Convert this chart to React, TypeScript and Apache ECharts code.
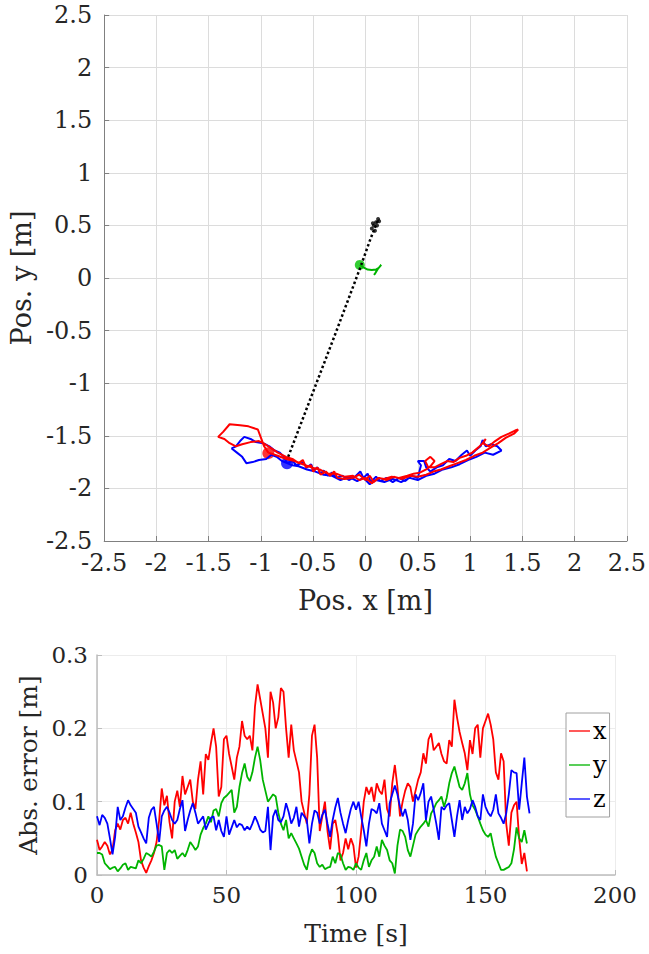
import React, { useEffect, useRef } from "react";
import * as echarts from "echarts";

// ---- Top chart: trajectories (x [m], y [m]) ----
const refPath: number[][] = [
  [-0.74, -1.7], [-0.52, -1.13], [-0.3, -0.56], [-0.05, 0.1], [0.05, 0.38], [0.09, 0.48], [0.12, 0.55],
];
const refCluster: number[][] = [
  [0.08, 0.5], [0.1, 0.53], [0.12, 0.56], [0.06, 0.47], [0.09, 0.45], [0.11, 0.5], [0.07, 0.52], [0.13, 0.54],
];
const greenPath: number[][] = [
  [-0.055, 0.124], [-0.02, 0.1], [0.02, 0.08], [0.06, 0.075], [0.1, 0.08], [0.13, 0.1], [0.15, 0.125],
  [0.12, 0.09], [0.09, 0.04], [0.08, 0.03],
];
const greenDot: number[][] = [[-0.055, 0.124]];
const redPath: number[][] = [
  [-0.93, -1.66], [-0.97, -1.6], [-1.0, -1.52], [-1.03, -1.44], [-1.12, -1.41], [-1.2, -1.4], [-1.3, -1.39],
  [-1.36, -1.46], [-1.41, -1.51], [-1.35, -1.53], [-1.3, -1.57], [-1.24, -1.6], [-1.18, -1.58], [-1.1, -1.56],
  [-1.02, -1.55], [-0.96, -1.58], [-0.9, -1.62], [-0.84, -1.66], [-0.76, -1.7], [-0.7, -1.72], [-0.64, -1.76],
  [-0.6, -1.73], [-0.57, -1.8], [-0.52, -1.78], [-0.5, -1.84], [-0.46, -1.8], [-0.43, -1.87], [-0.38, -1.84],
  [-0.34, -1.88], [-0.3, -1.84], [-0.27, -1.9], [-0.2, -1.91], [-0.12, -1.9], [-0.06, -1.87], [0.0, -1.92],
  [0.04, -1.88], [0.08, -1.94], [0.12, -1.9], [0.18, -1.91], [0.25, -1.89], [0.32, -1.9], [0.4, -1.88],
  [0.46, -1.86], [0.52, -1.85], [0.58, -1.82], [0.62, -1.79], [0.66, -1.74], [0.62, -1.7], [0.57, -1.74],
  [0.6, -1.8], [0.66, -1.8], [0.72, -1.77], [0.78, -1.74], [0.84, -1.75], [0.9, -1.71], [0.96, -1.69],
  [1.02, -1.66], [1.08, -1.61], [1.13, -1.56], [1.15, -1.53], [1.12, -1.57], [1.18, -1.6], [1.24, -1.55],
  [1.3, -1.51], [1.37, -1.48], [1.43, -1.45], [1.46, -1.44], [1.42, -1.48], [1.34, -1.52], [1.27, -1.57],
  [1.2, -1.61], [1.12, -1.66], [1.04, -1.69], [0.96, -1.73], [0.88, -1.76], [0.8, -1.79], [0.72, -1.82],
  [0.65, -1.84], [0.58, -1.87], [0.5, -1.89], [0.43, -1.88], [0.35, -1.91], [0.27, -1.89], [0.2, -1.92],
  [0.13, -1.9], [0.06, -1.95], [0.0, -1.9], [-0.06, -1.92], [-0.12, -1.88], [-0.2, -1.89], [-0.28, -1.86],
  [-0.36, -1.86], [-0.44, -1.82], [-0.52, -1.8], [-0.6, -1.77], [-0.68, -1.74], [-0.76, -1.72], [-0.84, -1.69],
  [-0.93, -1.66],
];
const redDot: number[][] = [[-0.93, -1.665]];
const bluePath: number[][] = [
  [-0.75, -1.76], [-0.78, -1.7], [-0.82, -1.66], [-0.87, -1.64], [-0.92, -1.6], [-0.98, -1.57], [-1.05, -1.56],
  [-1.1, -1.53], [-1.16, -1.51], [-1.2, -1.55], [-1.24, -1.6], [-1.28, -1.62], [-1.23, -1.66], [-1.18, -1.7],
  [-1.14, -1.76], [-1.08, -1.75], [-1.02, -1.73], [-0.95, -1.72], [-0.9, -1.68], [-0.85, -1.7], [-0.8, -1.74],
  [-0.75, -1.76], [-0.7, -1.74], [-0.66, -1.78], [-0.6, -1.75], [-0.56, -1.8], [-0.52, -1.77], [-0.5, -1.83],
  [-0.46, -1.8], [-0.43, -1.86], [-0.4, -1.83], [-0.36, -1.88], [-0.32, -1.85], [-0.28, -1.9], [-0.22, -1.88],
  [-0.16, -1.92], [-0.1, -1.89], [-0.05, -1.84], [-0.02, -1.9], [0.02, -1.86], [0.05, -1.94], [0.1, -1.89],
  [0.14, -1.93], [0.2, -1.9], [0.26, -1.94], [0.32, -1.9], [0.38, -1.93], [0.44, -1.88], [0.5, -1.9],
  [0.53, -1.78], [0.5, -1.74], [0.56, -1.74], [0.58, -1.8], [0.62, -1.84], [0.68, -1.8], [0.74, -1.78],
  [0.8, -1.72], [0.86, -1.74], [0.92, -1.68], [0.97, -1.64], [1.0, -1.69], [1.05, -1.64], [1.1, -1.6],
  [1.12, -1.54], [1.15, -1.6], [1.2, -1.58], [1.26, -1.6], [1.3, -1.64], [1.22, -1.68], [1.14, -1.66],
  [1.06, -1.7], [0.98, -1.73], [0.9, -1.77], [0.82, -1.8], [0.74, -1.82], [0.66, -1.86], [0.58, -1.88],
  [0.5, -1.92], [0.42, -1.9], [0.34, -1.94], [0.26, -1.91], [0.18, -1.94], [0.1, -1.92], [0.04, -1.96],
  [-0.02, -1.9], [-0.08, -1.93], [-0.16, -1.89], [-0.24, -1.92], [-0.32, -1.88], [-0.4, -1.87], [-0.48, -1.84],
  [-0.56, -1.82], [-0.64, -1.79], [-0.7, -1.78], [-0.75, -1.76],
];
const blueDot: number[][] = [[-0.751, -1.761]];

// ---- Bottom chart: absolute error per second ----
const errX: number[] = [
  0.048, 0.034, 0.039, 0.045, 0.04, 0.028, 0.035, 0.061, 0.07, 0.062,
  0.075, 0.078, 0.07, 0.085, 0.07, 0.058, 0.045, 0.02, 0.01, 0.003,
  0.012, 0.02, 0.03, 0.045, 0.075, 0.118, 0.095, 0.108, 0.072, 0.05,
  0.1, 0.115, 0.093, 0.135, 0.11, 0.12, 0.13, 0.1, 0.09, 0.13,
  0.155, 0.11, 0.165, 0.157, 0.18, 0.2, 0.175, 0.107, 0.12, 0.185,
  0.19, 0.165, 0.148, 0.13, 0.16, 0.175, 0.21, 0.19, 0.185, 0.19,
  0.17, 0.23, 0.26, 0.24, 0.22, 0.2, 0.16, 0.25, 0.235, 0.2,
  0.215, 0.255, 0.25, 0.2, 0.16, 0.205, 0.17, 0.155, 0.14, 0.1,
  0.085, 0.07, 0.11, 0.19, 0.205, 0.16, 0.06, 0.08, 0.1, 0.06,
  0.035, 0.07, 0.075, 0.055, 0.02, 0.03, 0.05, 0.035, 0.05, 0.04,
  0.01, 0.025, 0.06, 0.1, 0.12, 0.11, 0.12, 0.1, 0.125, 0.115,
  0.11, 0.13, 0.09, 0.08, 0.125, 0.15, 0.12, 0.08, 0.1, 0.115,
  0.125, 0.12, 0.1, 0.115, 0.13, 0.14, 0.166, 0.152, 0.185, 0.193,
  0.17, 0.175, 0.18, 0.165, 0.155, 0.152, 0.184, 0.175, 0.239, 0.215,
  0.195, 0.18, 0.166, 0.143, 0.184, 0.165, 0.2, 0.205, 0.16, 0.2,
  0.21, 0.22, 0.205, 0.185, 0.14, 0.13, 0.166, 0.155, 0.07, 0.04,
  0.085, 0.095, 0.1, 0.05, 0.015, 0.03, 0.005,
];
const errY: number[] = [
  0.03, 0.03, 0.028, 0.016, 0.012, 0.008, 0.01, 0.011, 0.005, 0.009,
  0.014, 0.016, 0.007, 0.011, 0.01, 0.009, 0.02, 0.016, 0.022, 0.03,
  0.028, 0.025, 0.032, 0.04, 0.041, 0.039, 0.007, 0.03, 0.034, 0.03,
  0.034, 0.022, 0.026, 0.03, 0.025, 0.034, 0.045, 0.04, 0.034, 0.039,
  0.055, 0.064, 0.07, 0.08, 0.072, 0.088, 0.09, 0.08, 0.098, 0.105,
  0.108, 0.112, 0.116, 0.085, 0.093, 0.12, 0.139, 0.152, 0.134, 0.128,
  0.14, 0.16, 0.175, 0.157, 0.13, 0.115, 0.1, 0.105, 0.11, 0.107,
  0.085, 0.07, 0.061, 0.075, 0.05, 0.057, 0.05, 0.043, 0.036, 0.025,
  0.014, 0.007, 0.025, 0.035, 0.03, 0.016, 0.011, 0.014, 0.008, 0.01,
  0.011, 0.025, 0.016, 0.03, 0.028, 0.016, 0.007, 0.011, 0.01, 0.007,
  0.016, 0.01, 0.007, 0.02, 0.03, 0.011, 0.02, 0.025, 0.039, 0.025,
  0.048, 0.04, 0.034, 0.02, 0.016, 0.002, 0.04, 0.062, 0.06, 0.052,
  0.034, 0.025, 0.04, 0.055, 0.061, 0.066, 0.07, 0.075, 0.066, 0.084,
  0.09, 0.098, 0.102, 0.107, 0.093, 0.105, 0.125, 0.139, 0.148, 0.134,
  0.12, 0.116, 0.125, 0.139, 0.11, 0.095, 0.089, 0.08, 0.07, 0.061,
  0.055, 0.052, 0.057, 0.04, 0.025, 0.016, 0.007, 0.007, 0.009, 0.011,
  0.016, 0.035, 0.065, 0.05, 0.045, 0.061, 0.043,
];
const errZ: number[] = [
  0.08, 0.068, 0.082, 0.078, 0.07, 0.05, 0.028, 0.052, 0.093, 0.075,
  0.08, 0.092, 0.102, 0.095, 0.09, 0.085, 0.066, 0.058, 0.05, 0.043,
  0.078, 0.089, 0.093, 0.07, 0.045, 0.08, 0.088, 0.093, 0.085, 0.075,
  0.07, 0.075, 0.09, 0.102, 0.06, 0.075, 0.088, 0.098, 0.085, 0.07,
  0.075, 0.08, 0.062, 0.07, 0.078, 0.08, 0.061, 0.075, 0.06, 0.052,
  0.08, 0.055, 0.065, 0.075, 0.065, 0.07, 0.068, 0.061, 0.066, 0.062,
  0.07, 0.08, 0.072, 0.062, 0.058, 0.06, 0.093, 0.034, 0.08, 0.089,
  0.075, 0.072, 0.08, 0.098, 0.086, 0.07, 0.078, 0.093, 0.066, 0.085,
  0.08, 0.075, 0.043, 0.07, 0.088, 0.085, 0.07, 0.082, 0.089, 0.07,
  0.052, 0.075, 0.092, 0.105, 0.085, 0.07, 0.057, 0.075, 0.09, 0.1,
  0.089, 0.1, 0.08, 0.061, 0.039, 0.07, 0.09, 0.088, 0.084, 0.098,
  0.07, 0.061, 0.052, 0.098, 0.11, 0.122, 0.11, 0.093, 0.08, 0.09,
  0.075, 0.048, 0.07, 0.11, 0.102, 0.112, 0.125, 0.075, 0.1, 0.107,
  0.089, 0.07, 0.048, 0.093, 0.089, 0.095, 0.098, 0.075, 0.052, 0.08,
  0.102, 0.075, 0.093, 0.084, 0.09, 0.102, 0.093, 0.08, 0.075, 0.11,
  0.093, 0.085, 0.08, 0.089, 0.11, 0.084, 0.078, 0.07, 0.084, 0.11,
  0.143, 0.14, 0.139, 0.089, 0.125, 0.16, 0.107, 0.084,
];
const errNames = ["x", "y", "z"];
const errColors = ["#ff0000", "#00b400", "#0000ff"];

const serif = "DejaVu Serif";
const txt = "#262626";

export default function App() {
  const ref = useRef<HTMLDivElement>(null);
  useEffect(() => {
    if (!ref.current) return;
    const chart = echarts.init(ref.current, undefined, { renderer: "svg" });
    const toXY = (arr: number[]) => arr.map((v, i) => [i, v]);
    const option: any = {
      animation: false,
      backgroundColor: "#ffffff",
      grid: [
        { left: 104, top: 15, width: 527, height: 526 },
        { left: 97, top: 655, width: 518, height: 220 },
      ],
      xAxis: [
        {
          gridIndex: 0, type: "value", min: -2.5, max: 2.5, interval: 0.5,
          axisLine: { show: true, onZero: false, lineStyle: { color: "#808080", width: 1 } },
          axisTick: { show: true, inside: true, length: 5, lineStyle: { color: "#808080" } },
          axisLabel: { fontFamily: serif, fontSize: 24, color: txt, margin: 10 },
          splitLine: { show: true, lineStyle: { color: "#dcdcdc" } },
          name: "Pos. x [m]", nameLocation: "middle", nameGap: 46,
          nameTextStyle: { fontFamily: serif, fontSize: 27, color: txt },
        },
        {
          gridIndex: 1, type: "value", min: 0, max: 200, interval: 50,
          axisLine: { show: true, onZero: false, lineStyle: { color: "#bdbdbd", width: 1.5 } },
          axisTick: { show: true, inside: true, length: 5, lineStyle: { color: "#bdbdbd" } },
          axisLabel: { fontFamily: serif, fontSize: 23, color: txt, margin: 8 },
          splitLine: { show: true, lineStyle: { color: "#ececec" } },
          name: "Time [s]", nameLocation: "middle", nameGap: 46,
          nameTextStyle: { fontFamily: serif, fontSize: 25, color: txt },
        },
      ],
      yAxis: [
        {
          gridIndex: 0, type: "value", min: -2.5, max: 2.5, interval: 0.5,
          axisLine: { show: true, onZero: false, lineStyle: { color: "#808080", width: 1 } },
          axisTick: { show: true, inside: true, length: 5, lineStyle: { color: "#808080" } },
          axisLabel: { fontFamily: serif, fontSize: 24, color: txt, margin: 12 },
          splitLine: { show: true, lineStyle: { color: "#dcdcdc" } },
          name: "Pos. y [m]", nameLocation: "middle", nameGap: 64,
          nameTextStyle: { fontFamily: serif, fontSize: 27, color: txt },
        },
        {
          gridIndex: 1, type: "value", min: 0, max: 0.3, interval: 0.1,
          axisLine: { show: true, onZero: false, lineStyle: { color: "#bdbdbd", width: 1.5 } },
          axisTick: { show: true, inside: true, length: 5, lineStyle: { color: "#bdbdbd" } },
          axisLabel: { fontFamily: serif, fontSize: 23, color: txt, margin: 9 },
          splitLine: { show: true, lineStyle: { color: "#ececec" } },
          name: "Abs. error [m]", nameLocation: "middle", nameGap: 46,
          nameTextStyle: { fontFamily: serif, fontSize: 25, color: txt },
        },
      ],
      legend: {
        data: errNames,
        orient: "vertical",
        left: 566,
        top: 713,
        padding: [6, 3, 6, 3],
        itemGap: 10,
        itemWidth: 21,
        itemHeight: 2,
        icon: "rect",
        itemStyle: { opacity: 0.65 },
        borderColor: "#a0a0a0",
        borderWidth: 1,
        backgroundColor: "#ffffff",
        textStyle: { fontFamily: serif, fontSize: 24, color: "#000", padding: [0, 0, 0, -2] },
      },
      series: [
        {
          type: "line", xAxisIndex: 0, yAxisIndex: 0, data: refPath, showSymbol: false,
          lineStyle: { color: "#000", width: 2.5, type: [2.5, 2.5] }, silent: true,
        },
        {
          type: "scatter", xAxisIndex: 0, yAxisIndex: 0, data: refCluster, symbolSize: 4,
          itemStyle: { color: "#000" }, silent: true,
        },
        {
          type: "line", xAxisIndex: 0, yAxisIndex: 0, data: greenPath, showSymbol: false,
          lineStyle: { color: "#00b400", width: 2 }, silent: true,
        },
        {
          type: "scatter", xAxisIndex: 0, yAxisIndex: 0, data: greenDot, symbolSize: 10,
          itemStyle: { color: "#00c000" }, silent: true,
        },
        {
          type: "line", xAxisIndex: 0, yAxisIndex: 0, data: bluePath, showSymbol: false,
          lineStyle: { color: "#0000ff", width: 2 }, silent: true,
        },
        {
          type: "line", xAxisIndex: 0, yAxisIndex: 0, data: redPath, showSymbol: false,
          lineStyle: { color: "#ff0000", width: 2 }, silent: true,
        },
        {
          type: "scatter", xAxisIndex: 0, yAxisIndex: 0, data: blueDot, symbolSize: 12,
          itemStyle: { color: "#0000ff" }, silent: true,
        },
        {
          type: "scatter", xAxisIndex: 0, yAxisIndex: 0, data: redDot, symbolSize: 12,
          itemStyle: { color: "#ff0000" }, silent: true,
        },
        ...[errX, errY, errZ].map((arr, k) => ({
          name: errNames[k],
          type: "line", xAxisIndex: 1, yAxisIndex: 1, data: toXY(arr), showSymbol: false,
          lineStyle: { color: errColors[k], width: 1.8 }, itemStyle: { color: errColors[k] },
          silent: true,
        })),
      ],
    };
    chart.setOption(option);
    return () => chart.dispose();
  }, []);
  return (
    <div
      ref={ref}
      style={{ position: "fixed", left: 0, top: 0, width: 649, height: 954, background: "#fff" }}
    />
  );
}
